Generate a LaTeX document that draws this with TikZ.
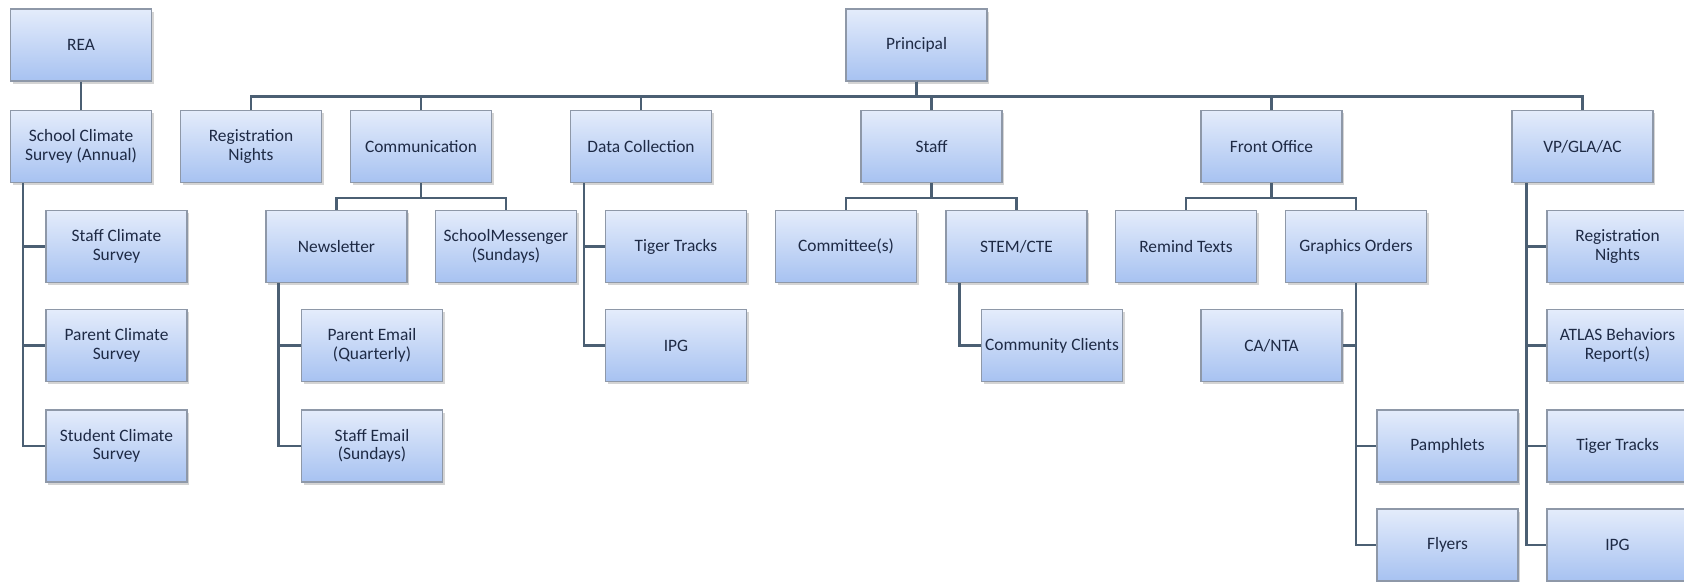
\documentclass[tikz,border=0pt]{standalone}
\usepackage{fontspec}
\setmainfont{Carlito}
\usetikzlibrary{calc,shadows}

\definecolor{boxtop}{HTML}{E4ECFB}
\definecolor{boxbot}{HTML}{A7C2F1}
\definecolor{boxline}{HTML}{8E98A8}
\definecolor{linkcol}{HTML}{4B5F73}
\definecolor{txtcol}{HTML}{1E2A45}

\tikzset{
  orgbox/.style={
    draw=boxline, line width=0.6pt,
    top color=boxtop, bottom color=boxbot,
    minimum width=70.5pt, minimum height=36pt,
    inner sep=0pt, align=center, text=txtcol,
    font=\fontsize{8.7}{9.3}\selectfont,
    drop shadow={shadow xshift=1.2pt, shadow yshift=-1.4pt, opacity=0.28, fill=black!60}
  },
  link/.style={draw=linkcol, line width=1.4pt}
}

\begin{document}
\begin{tikzpicture}[x=0.5pt, y=-0.5pt]
  \useasboundingbox (0,0) rectangle (1684,582);
  \clip (0,0) rectangle (1684,582);
  \fill[white] (0,0) rectangle (1684,582);

  % REA branch
  \node[orgbox] (rea)        at (81,45)      {REA};
  \node[orgbox] (scs)        at (81,146.5)   {School Climate\\Survey (Annual)};
  \node[orgbox] (scsstaff)   at (116.5,246.5){Staff Climate\\Survey};
  \node[orgbox] (scsparent)  at (116.5,345.5){Parent Climate\\Survey};
  \node[orgbox] (scsstudent) at (116.5,446)  {Student Climate\\Survey};

  % Principal and first level
  \node[orgbox] (principal)  at (916.5,45)   {Principal};
  \node[orgbox] (reg)        at (251,146.5)  {Registration\\Nights};
  \node[orgbox] (comm)       at (421,146.5)  {Communication};
  \node[orgbox] (dc)         at (641,146.5)  {Data Collection};
  \node[orgbox] (staff)      at (931.5,146.5){Staff};
  \node[orgbox] (fo)         at (1271.5,146.5){Front Office};
  \node[orgbox] (vp)         at (1582.5,146.5){VP/GLA/AC};

  % Communication
  \node[orgbox] (news)       at (336.5,246.5){Newsletter};
  \node[orgbox] (sm)         at (506,246.5)  {SchoolMessenger\\(Sundays)};
  \node[orgbox] (pemail)     at (372,345.5)  {Parent Email\\(Quarterly)};
  \node[orgbox] (semail)     at (372,446)    {Staff Email\\(Sundays)};

  % Data Collection
  \node[orgbox] (dctt)       at (676,246.5)  {Tiger Tracks};
  \node[orgbox] (dcipg)      at (676,345.5)  {IPG};

  % Staff
  \node[orgbox] (comt)       at (846,246.5)  {Committee(s)};
  \node[orgbox] (stem)       at (1016.5,246.5){STEM/CTE};
  \node[orgbox] (cc)         at (1052,345.5) {Community Clients};

  % Front Office
  \node[orgbox] (remind)     at (1186,246.5) {Remind Texts};
  \node[orgbox] (go)         at (1356,246.5) {Graphics Orders};
  \node[orgbox] (cana)       at (1271.5,345.5){CA/NTA};
  \node[orgbox] (pamph)      at (1447.5,446) {Pamphlets};
  \node[orgbox] (flyers)     at (1447.5,545) {Flyers};

  % VP/GLA/AC
  \node[orgbox] (vpreg)      at (1617.5,246.5){Registration\\Nights};
  \node[orgbox] (atlas)      at (1617.5,345.5){ATLAS Behaviors\\Report(s)};
  \node[orgbox] (vptt)       at (1617.5,446)  {Tiger Tracks};
  \node[orgbox] (vpipg)      at (1617.5,545)  {IPG};

  % Connectors
  \begin{scope}[link]
    \draw (rea.south) -- (scs.north);
    \foreach \c in {scsstaff,scsparent,scsstudent}
      \draw ($(scs.south west)+(13,0)$) |- (\c.west);

    \foreach \c in {reg,comm,dc,staff,fo,vp}
      \draw (principal.south) -- ++(0,15) -| (\c.north);

    \foreach \c in {news,sm}
      \draw (comm.south) -- ++(0,15) -| (\c.north);
    \foreach \c in {pemail,semail}
      \draw ($(news.south west)+(13,0)$) |- (\c.west);

    \foreach \c in {dctt,dcipg}
      \draw ($(dc.south west)+(14,0)$) |- (\c.west);

    \foreach \c in {comt,stem}
      \draw (staff.south) -- ++(0,15) -| (\c.north);
    \draw ($(stem.south west)+(14,0)$) |- (cc.west);

    \foreach \c in {remind,go}
      \draw (fo.south) -- ++(0,15) -| (\c.north);
    \draw (go.south) |- (cana.east);
    \foreach \c in {pamph,flyers}
      \draw (go.south) |- (\c.west);

    \foreach \c in {vpreg,atlas,vptt,vpipg}
      \draw ($(vp.south west)+(15,0)$) |- (\c.west);
  \end{scope}
\end{tikzpicture}
\end{document}
